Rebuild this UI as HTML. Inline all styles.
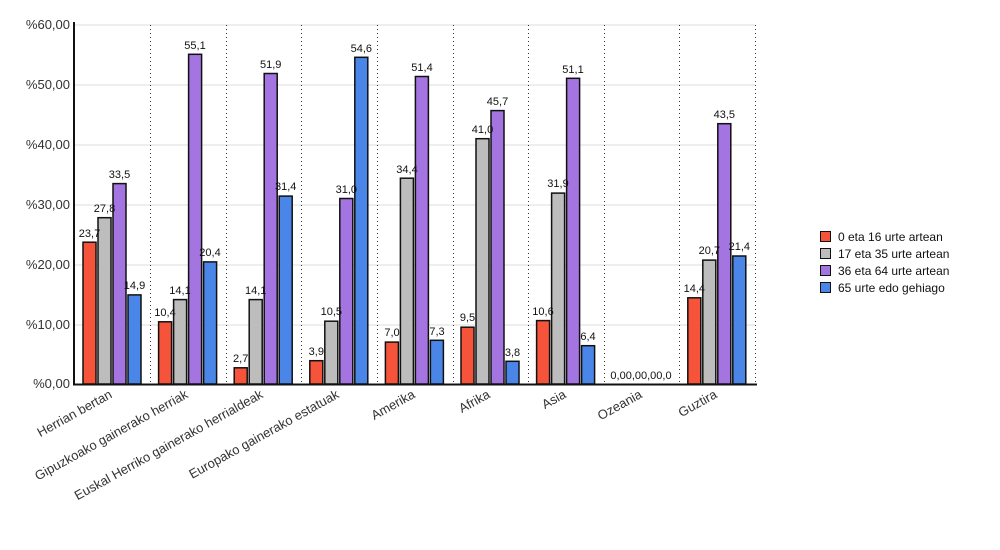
<!DOCTYPE html>
<html><head><meta charset="utf-8"><style>body{margin:0;background:#fff}svg{display:block;font-family:"Liberation Sans",sans-serif}</style></head><body>
<svg width="1000" height="550" xmlns="http://www.w3.org/2000/svg">
<g stroke="#ddd" stroke-width="1">
<line x1="75" y1="25" x2="755" y2="25"/><line x1="75" y1="85" x2="755" y2="85"/><line x1="75" y1="145" x2="755" y2="145"/><line x1="75" y1="205" x2="755" y2="205"/><line x1="75" y1="265" x2="755" y2="265"/><line x1="75" y1="325" x2="755" y2="325"/>
</g>
<g stroke="#333" stroke-width="1" stroke-dasharray="1,3">
<line x1="150.5" y1="25" x2="150.5" y2="384"/><line x1="226.5" y1="25" x2="226.5" y2="384"/><line x1="301.5" y1="25" x2="301.5" y2="384"/><line x1="377.5" y1="25" x2="377.5" y2="384"/><line x1="453.5" y1="25" x2="453.5" y2="384"/><line x1="528.5" y1="25" x2="528.5" y2="384"/><line x1="604.5" y1="25" x2="604.5" y2="384"/><line x1="679.5" y1="25" x2="679.5" y2="384"/><line x1="755.5" y1="25" x2="755.5" y2="384"/>
</g>
<g font-size="13" fill="#333" text-anchor="end">
<text x="70" y="29">%60,00</text><text x="70" y="89">%50,00</text><text x="70" y="149">%40,00</text><text x="70" y="209">%30,00</text><text x="70" y="269">%20,00</text><text x="70" y="329">%10,00</text><text x="70" y="388">%0,00</text>
</g>
<g stroke="#111" stroke-width="1.5">
<g fill="#f5533a">
<rect x="83" y="242.2" width="13" height="141.8"/><rect x="158.6" y="321.8" width="13" height="62.2"/><rect x="234.2" y="367.8" width="13" height="16.2"/><rect x="309.8" y="360.7" width="13" height="23.3"/><rect x="385.4" y="342.1" width="13" height="41.9"/><rect x="461" y="327.2" width="13" height="56.8"/><rect x="536.6" y="320.6" width="13" height="63.4"/><rect x="687.8" y="297.8" width="13" height="86.2"/>
</g>
<g fill="#bdbdbd">
<rect x="98" y="217.7" width="13" height="166.3"/><rect x="173.6" y="299.6" width="13" height="84.4"/><rect x="249.2" y="299.6" width="13" height="84.4"/><rect x="324.8" y="321.2" width="13" height="62.8"/><rect x="400.4" y="178.2" width="13" height="205.8"/><rect x="476" y="138.7" width="13" height="245.3"/><rect x="551.6" y="193.1" width="13" height="190.9"/><rect x="702.8" y="260.1" width="13" height="123.9"/>
</g>
<g fill="#a474e0">
<rect x="113" y="183.6" width="13" height="200.4"/><rect x="188.6" y="54.3" width="13" height="329.7"/><rect x="264.2" y="73.5" width="13" height="310.5"/><rect x="339.8" y="198.5" width="13" height="185.5"/><rect x="415.4" y="76.5" width="13" height="307.5"/><rect x="491" y="110.6" width="13" height="273.4"/><rect x="566.6" y="78.3" width="13" height="305.7"/><rect x="717.8" y="123.7" width="13" height="260.3"/>
</g>
<g fill="#4a86e8">
<rect x="128" y="294.9" width="13" height="89.1"/><rect x="203.6" y="261.9" width="13" height="122.1"/><rect x="279.2" y="196.1" width="13" height="187.9"/><rect x="354.8" y="57.3" width="13" height="326.7"/><rect x="430.4" y="340.3" width="13" height="43.7"/><rect x="506" y="361.3" width="13" height="22.7"/><rect x="581.6" y="345.7" width="13" height="38.3"/><rect x="732.8" y="256" width="13" height="128"/>
</g>
</g>
<g font-size="11" fill="#111" text-anchor="middle">
<text x="89.5" y="237">23,7</text><text x="104.5" y="212">27,8</text><text x="119.5" y="178">33,5</text><text x="134.5" y="289">14,9</text>
<text x="165" y="316">10,4</text><text x="180" y="294">14,1</text><text x="195" y="49">55,1</text><text x="210" y="256">20,4</text>
<text x="240.7" y="362">2,7</text><text x="255.7" y="294">14,1</text><text x="270.7" y="68">51,9</text><text x="285.7" y="190">31,4</text>
<text x="316.3" y="355">3,9</text><text x="331.3" y="315">10,5</text><text x="346.3" y="193">31,0</text><text x="361.3" y="52">54,6</text>
<text x="392" y="336">7,0</text><text x="407" y="173">34,4</text><text x="422" y="71">51,4</text><text x="437" y="335">7,3</text>
<text x="467.5" y="321">9,5</text><text x="482.5" y="133">41,0</text><text x="497.5" y="105">45,7</text><text x="512.5" y="356">3,8</text>
<text x="543" y="315">10,6</text><text x="558" y="187">31,9</text><text x="573" y="73">51,1</text><text x="588" y="340">6,4</text>
<text x="641" y="379">0,00,00,00,0</text>
<text x="694.3" y="292">14,4</text><text x="709.3" y="254">20,7</text><text x="724.3" y="118">43,5</text><text x="739.3" y="250">21,4</text>
</g>
<line x1="74" y1="22" x2="74" y2="385" stroke="#111" stroke-width="2"/>
<line x1="73" y1="384.5" x2="757" y2="384.5" stroke="#111" stroke-width="2"/>
<g font-size="13" fill="#333" text-anchor="end">
<text transform="translate(113,397) rotate(-29)">Herrian bertan</text>
<text transform="translate(189,397) rotate(-29)">Gipuzkoako gainerako herriak</text>
<text transform="translate(264,397) rotate(-29)">Euskal Herriko gainerako herrialdeak</text>
<text transform="translate(340,397) rotate(-29)">Europako gainerako estatuak</text>
<text transform="translate(416,397) rotate(-29)">Amerika</text>
<text transform="translate(491,397) rotate(-29)">Afrika</text>
<text transform="translate(567,397) rotate(-29)">Asia</text>
<text transform="translate(643,397) rotate(-29)">Ozeania</text>
<text transform="translate(718,397) rotate(-29)">Guztira</text>
</g>
<g stroke="#111" stroke-width="1">
<rect x="820.5" y="231.5" width="10" height="10" fill="#f5533a"/>
<rect x="820.5" y="248.5" width="10" height="10" fill="#bdbdbd"/>
<rect x="820.5" y="265.5" width="10" height="10" fill="#a474e0"/>
<rect x="820.5" y="282.5" width="10" height="10" fill="#4a86e8"/>
</g>
<g font-size="12" fill="#111">
<text x="838" y="241">0 eta 16 urte artean</text>
<text x="838" y="258">17 eta 35 urte artean</text>
<text x="838" y="275">36 eta 64 urte artean</text>
<text x="838" y="292">65 urte edo gehiago</text>
</g>
</svg>
</body></html>
